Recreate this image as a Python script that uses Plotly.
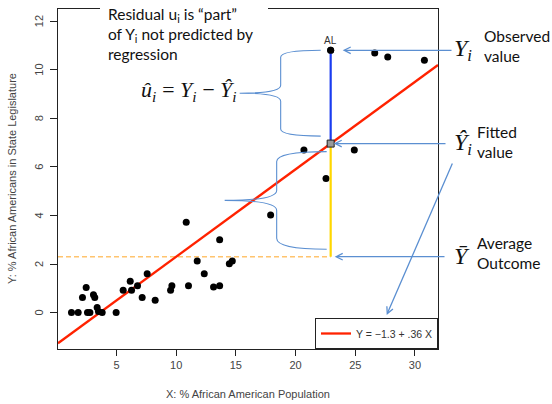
import plotly.graph_objects as go

# ---------------- data ----------------
x_pop = [1.23, 1.79, 2.15, 2.46, 2.57, 2.77, 3.07, 3.18, 3.38, 3.49, 3.80, 4.97,
         5.56, 6.15, 6.26, 6.76, 7.15, 7.57, 8.24, 9.53, 9.64, 10.84, 11.03, 11.76,
         12.35, 13.13, 13.64, 13.64, 14.45, 14.70, 17.91, 20.70, 22.55, 24.92,
         26.63, 27.72, 30.79]
y_leg = [0.00, 0.00, 0.62, 1.03, 0.00, 0.00, 0.73, 0.62, 0.21, 0.04, 0.00, 0.00,
         0.92, 1.29, 0.92, 1.10, 0.62, 1.60, 0.51, 0.92, 1.10, 3.72, 1.10, 2.12,
         1.60, 1.05, 3.00, 1.10, 2.01, 2.12, 4.02, 6.69, 5.52, 6.69,
         10.69, 10.52, 10.39]
al_x, al_y = 22.94, 10.80          # Alabama (highlighted observation)
intercept, slope = -1.3, 0.36      # fitted regression
y_mean = 2.3                       # average outcome
x_ticks = [5, 10, 15, 20, 25, 30]
y_ticks = [0, 2, 4, 6, 8, 10, 12]
legend_label = "Y = \u22121.3 + .36 X"

X_RANGE = [0.1, 31.93]
Y_RANGE = [-1.5, 12.5]

# ---------------- layout geometry ----------------
W, H = 552, 404
ML, MR, MT, MB = 58, 114, 9, 55
PW, PH = W - ML - MR, H - MT - MB

def xpx(x):
    return ML + (x - X_RANGE[0]) / (X_RANGE[1] - X_RANGE[0]) * PW

def ypx(y):
    return MT + PH - (y - Y_RANGE[0]) / (Y_RANGE[1] - Y_RANGE[0]) * PH

def pxp(px):
    return (px - ML) / PW

def pyp(py):
    return (MT + PH - py) / PH

fitted = intercept + slope * al_x

BLUE_ANN = "#5b8fd1"
AX_COL = "#222222"
TXT_COL = "#333333"

fig = go.Figure()

# mean dashed line
fig.add_trace(go.Scatter(x=[X_RANGE[0], al_x], y=[y_mean, y_mean], mode="lines",
                         line=dict(color="#ffc46e", width=1.4, dash="5px,3px"),
                         showlegend=False, hoverinfo="skip"))
# regression line
fig.add_trace(go.Scatter(x=X_RANGE, y=[intercept + slope * v for v in X_RANGE],
                         mode="lines", line=dict(color="#ff2200", width=2.3),
                         name=legend_label, showlegend=True))
# data points
fig.add_trace(go.Scatter(x=x_pop + [al_x], y=y_leg + [al_y], mode="markers",
                         marker=dict(color="black", size=7), showlegend=False))
# yellow: fitted - mean
fig.add_trace(go.Scatter(x=[al_x, al_x], y=[y_mean, fitted], mode="lines",
                         line=dict(color="#ffd700", width=2.2), showlegend=False))
# blue: residual
fig.add_trace(go.Scatter(x=[al_x, al_x], y=[fitted, al_y], mode="lines",
                         line=dict(color="#1a3cf0", width=2.2), showlegend=False))
fig.add_trace(go.Scatter(x=[al_x], y=[al_y], mode="markers",
                         marker=dict(color="black", size=7), showlegend=False))
# fitted square
fig.add_trace(go.Scatter(x=[al_x], y=[fitted], mode="markers",
                         marker=dict(symbol="square", color="#9a9a9a", size=7,
                                     line=dict(color="#222", width=1)),
                         showlegend=False))

# ---------------- braces ----------------
def brace(x_end, x_mid, x_tip, y_top, y_bot, r1, r2, r3):
    yc = (y_top + y_bot) / 2
    def P(x, y):
        return f"{pxp(x):.5f},{pyp(y):.5f}"
    return (f"M{P(x_end, y_top)} Q{P(x_mid, y_top)} {P(x_mid, y_top + r1)} "
            f"L{P(x_mid, yc - r2)} Q{P(x_mid, yc)} {P(x_tip, yc)} "
            f"M{P(x_tip, yc)} Q{P(x_mid, yc)} {P(x_mid, yc + r2)} "
            f"L{P(x_mid, y_bot - r3)} Q{P(x_mid, y_bot)} {P(x_end, y_bot)}")

shapes = []
shapes.append(dict(type="path", xref="paper", yref="paper", layer="above",
                   path=brace(xpx(al_x) - 10, xpx(al_x) - 50, xpx(al_x) - 91,
                              ypx(al_y), ypx(fitted) - 7.5, 7, 8, 7),
                   line=dict(color=BLUE_ANN, width=1.1)))
shapes.append(dict(type="path", xref="paper", yref="paper", layer="above",
                   path=brace(xpx(al_x) - 4, xpx(al_x) - 54, xpx(al_x) - 106,
                              ypx(fitted) + 8, ypx(y_mean) - 7.5, 10, 10, 11),
                   line=dict(color=BLUE_ANN, width=1.1)))
# white box behind the top-left text (hides the frame)
shapes.append(dict(type="rect", xref="paper", yref="paper", layer="above",
                   x0=pxp(100), x1=pxp(268), y0=pyp(66), y1=pyp(0),
                   fillcolor="white", line=dict(width=0)))

# ---------------- annotations ----------------
ann = []
def arrow(hx, hy, tx, ty):
    ann.append(dict(x=pxp(hx), y=pyp(hy), xref="paper", yref="paper", text="",
                    showarrow=True, ax=tx - hx, ay=ty - hy, arrowhead=5,
                    arrowsize=1.0, arrowwidth=1.3, arrowcolor=BLUE_ANN))

arrow(xpx(al_x) + 12, ypx(al_y), 453, ypx(al_y))
arrow(xpx(al_x) + 3, ypx(fitted), 447, ypx(fitted))
arrow(xpx(al_x) + 4, ypx(y_mean), 446, ypx(y_mean))
arrow(386.7, 315, 453, 162)

SANS = "Lato"
MATH = "Liberation Serif"

def text(px, py, s, size, family, xanchor="left", yanchor="middle", color="#111", angle=0):
    ann.append(dict(x=pxp(px), y=pyp(py), xref="paper", yref="paper", text=s,
                    showarrow=False, xanchor=xanchor, yanchor=yanchor, align="left",
                    textangle=angle, font=dict(size=size, family=family, color=color)))

text(106, 3, "Residual u<sub>i</sub> is \u201cpart\u201d<br>of Y<sub>i</sub> not predicted by<br>regression",
     15.5, SANS, yanchor="top")
text(139, 91, "<i>\u00fb<sub>i</sub>\u2009=\u2009Y<sub>i</sub>\u2009\u2212\u2009\u0176<sub>i</sub></i>", 22, MATH)

text(452, 50, "<i>Y<sub>i</sub></i>", 24, MATH)
text(482, 46, "Observed<br>value", 15.5, SANS)
text(452, 144, "<i>\u0176<sub>i</sub></i>", 24, MATH)
text(475, 142, "Fitted<br>value", 15.5, SANS)
text(452, 256, "<i>\u0232</i>", 24, MATH)
text(475, 253, "Average<br>Outcome", 15.5, SANS)

ann.append(dict(x=al_x, y=al_y, xref="x", yref="y", text="AL", showarrow=False,
                yshift=10, font=dict(size=10, family="Liberation Sans", color=TXT_COL)))

# y tick labels (rotated, R style)
for v in y_ticks:
    ann.append(dict(x=pxp(39), y=v, xref="paper", yref="y", text=str(v),
                    showarrow=False, xanchor="center", yanchor="middle", textangle=-90,
                    font=dict(size=11, family="Liberation Sans", color="#444")))

# axis titles
text(12, MT + PH / 2, "Y: % African Americans in State Legislature", 11,
     "Liberation Sans", xanchor="center", color="#444", angle=-90)
text(ML + PW / 2, 394, "X: % African American Population", 11,
     "Liberation Sans", xanchor="center", color="#444")

fig.update_layout(
    width=W, height=H, margin=dict(l=ML, r=MR, t=MT, b=MB),
    paper_bgcolor="white", plot_bgcolor="white",
    shapes=shapes, annotations=ann,
    legend=dict(x=1, y=0, xanchor="right", yanchor="bottom", bordercolor=AX_COL,
                borderwidth=1, bgcolor="white", itemwidth=30,
                font=dict(family="Liberation Sans", size=10.5, color=TXT_COL)),
    xaxis=dict(range=X_RANGE, tickvals=x_ticks, ticks="outside", ticklen=6,
               tickcolor=AX_COL, showline=True, linecolor=AX_COL, mirror=True,
               showgrid=False, zeroline=False,
               tickfont=dict(family="Liberation Sans", size=11, color="#444")),
    yaxis=dict(range=Y_RANGE, tickvals=y_ticks, ticks="outside", ticklen=7,
               tickcolor=AX_COL, showline=True, linecolor=AX_COL, mirror=True,
               showgrid=False, zeroline=False, showticklabels=False),
)

fig.write_html("out.html")
